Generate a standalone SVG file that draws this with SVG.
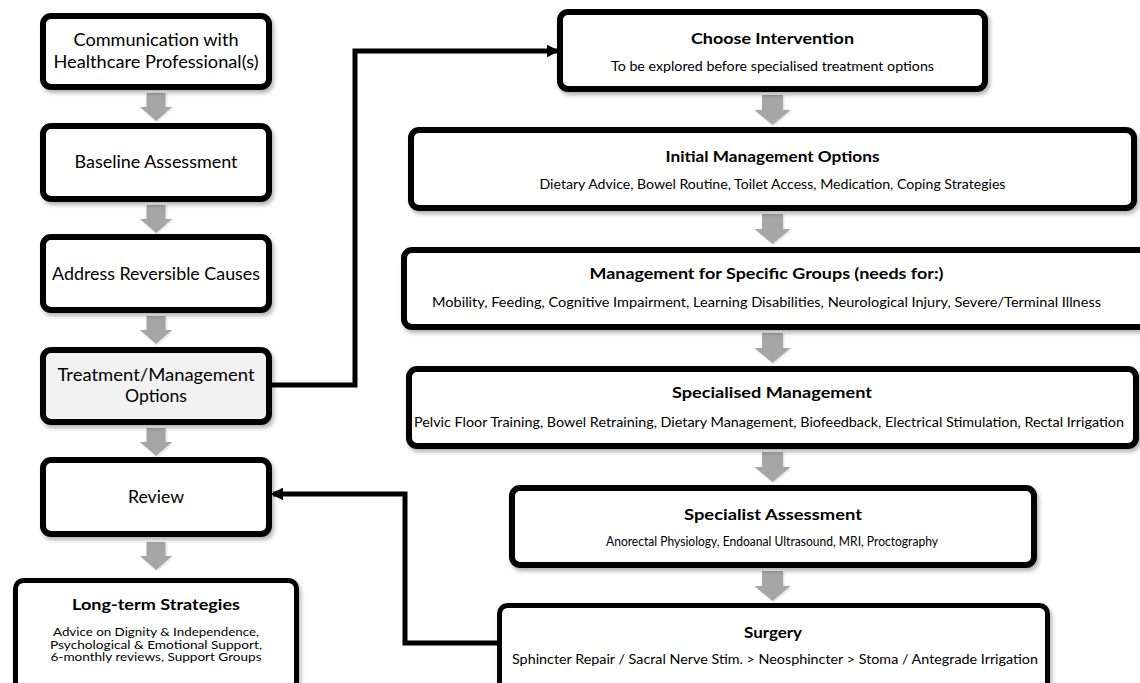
<svg xmlns="http://www.w3.org/2000/svg" width="1140" height="683" viewBox="0 0 1140 683">
<style>
.box{fill:#fff;stroke:#000;stroke-width:6;filter:url(#sh)}
.thin{stroke-width:5}
.grey{fill:#f2f2f2}
.t{font-family:Lato,"Liberation Sans",sans-serif;font-size:17px;fill:#000;text-anchor:middle}
.h{font-weight:bold;font-size:15px}
.lh{font-weight:bold;font-size:16px}
.s{font-size:12.5px}
.ls{font-size:11.5px}
.arr{fill:#a6a6a6;filter:url(#sh2)}
.conn{fill:none;stroke:#000;stroke-width:5;stroke-linejoin:miter}
</style>
<defs>
<filter id="sh" x="-5%" y="-10%" width="115%" height="130%">
<feDropShadow dx="2" dy="3" stdDeviation="2" flood-color="#000" flood-opacity="0.3"/>
</filter>
<filter id="sh2" x="-30%" y="-20%" width="160%" height="150%">
<feDropShadow dx="1" dy="1" stdDeviation="1" flood-color="#000" flood-opacity="0.15"/>
</filter>
<path id="ga" d="M-9.5,0 H9.5 V14 H16 L0,28 L-16,14 H-9.5 Z"/>
<path id="gb" d="M-10.5,0 H10.5 V15 H18 L0,30 L-18,15 H-10.5 Z"/>
<marker id="ah" viewBox="0 0 10 10" refX="8" refY="5" markerUnits="userSpaceOnUse" markerWidth="13" markerHeight="13" orient="auto">
<path d="M0,0 L10,5 L0,10 Z" fill="#000"/>
</marker>
</defs>

<g id="connectors">
<use href="#ga" class="arr" x="156" y="93"/>
<use href="#ga" class="arr" x="156" y="205"/>
<use href="#ga" class="arr" x="156" y="316"/>
<use href="#ga" class="arr" x="156" y="428"/>
<use href="#ga" class="arr" x="156" y="542"/>
<use href="#gb" class="arr" x="772.5" y="95"/>
<use href="#gb" class="arr" x="772.5" y="214"/>
<use href="#gb" class="arr" x="772.5" y="333"/>
<use href="#gb" class="arr" x="772.5" y="452"/>
<use href="#gb" class="arr" x="772.5" y="571"/>
<path class="conn" d="M272,385 H355 V51 H557" marker-end="url(#ah)"/>
<path class="conn" d="M497,643 H405 V494 H273" marker-end="url(#ah)"/>
</g>

<g id="n-communication">
<rect class="box" x="43" y="16" width="226" height="71" rx="8"/>
<text class="t" x="156" y="46" textLength="165" lengthAdjust="spacingAndGlyphs">Communication with</text>
<text class="t" x="156" y="68" textLength="205" lengthAdjust="spacingAndGlyphs">Healthcare Professional(s)</text>
</g>
<g id="n-baseline">
<rect class="box" x="43" y="126" width="226" height="73" rx="8"/>
<text class="t" x="156" y="168" textLength="163" lengthAdjust="spacingAndGlyphs">Baseline Assessment</text>
</g>
<g id="n-address">
<rect class="box" x="43" y="237" width="226" height="73" rx="8"/>
<text class="t" x="156" y="280" textLength="208" lengthAdjust="spacingAndGlyphs">Address Reversible Causes</text>
</g>
<g id="n-treatment">
<rect class="box grey" x="43" y="350" width="226" height="72" rx="8"/>
<text class="t" x="156" y="381" textLength="197" lengthAdjust="spacingAndGlyphs">Treatment/Management</text>
<text class="t" x="156" y="402" textLength="62" lengthAdjust="spacingAndGlyphs">Options</text>
</g>
<g id="n-review">
<rect class="box" x="43" y="460" width="226" height="74" rx="8"/>
<text class="t" x="156" y="503" textLength="56" lengthAdjust="spacingAndGlyphs">Review</text>
</g>
<g id="n-longterm">
<rect class="box thin" x="15.5" y="580.5" width="281" height="110" rx="8"/>
<text class="t lh" x="156" y="610" textLength="168" lengthAdjust="spacingAndGlyphs">Long-term Strategies</text>
<text class="t ls" x="156" y="636" textLength="206" lengthAdjust="spacingAndGlyphs">Advice on Dignity &amp; Independence,</text>
<text class="t ls" x="156" y="648.5" textLength="212" lengthAdjust="spacingAndGlyphs">Psychological &amp; Emotional Support,</text>
<text class="t ls" x="156" y="661" textLength="211" lengthAdjust="spacingAndGlyphs">6-monthly reviews, Support Groups</text>
</g>

<g id="n-choose">
<rect class="box" x="560" y="12" width="425" height="77" rx="8"/>
<text class="t h" x="772.5" y="44" textLength="163" lengthAdjust="spacingAndGlyphs">Choose Intervention</text>
<text class="t s" x="772.5" y="71" textLength="323" lengthAdjust="spacingAndGlyphs">To be explored before specialised treatment options</text>
</g>
<g id="n-initial">
<rect class="box" x="411" y="130" width="723" height="78" rx="8"/>
<text class="t h" x="772.5" y="162" textLength="214" lengthAdjust="spacingAndGlyphs">Initial Management Options</text>
<text class="t s" x="772.5" y="189" textLength="466" lengthAdjust="spacingAndGlyphs">Dietary Advice, Bowel Routine, Toilet Access, Medication, Coping Strategies</text>
</g>
<g id="n-specific">
<rect class="box" x="404" y="250" width="745" height="77" rx="8"/>
<text class="t h" x="766.5" y="279" textLength="354" lengthAdjust="spacingAndGlyphs">Management for Specific Groups (needs for:)</text>
<text class="t s" x="766.5" y="307" textLength="669" lengthAdjust="spacingAndGlyphs">Mobility, Feeding, Cognitive Impairment, Learning Disabilities, Neurological Injury, Severe/Terminal  Illness</text>
</g>
<g id="n-specialised">
<rect class="box" x="409" y="369" width="727" height="77" rx="8"/>
<text class="t h" x="772" y="398" textLength="200" lengthAdjust="spacingAndGlyphs">Specialised Management</text>
<text class="t s" x="769" y="427" textLength="710" lengthAdjust="spacingAndGlyphs">Pelvic Floor Training, Bowel Retraining, Dietary Management, Biofeedback, Electrical Stimulation, Rectal Irrigation</text>
</g>
<g id="n-assessment">
<rect class="box" x="512" y="488" width="522" height="77" rx="8"/>
<text class="t h" x="773" y="520" textLength="178" lengthAdjust="spacingAndGlyphs">Specialist Assessment</text>
<text class="t s" x="772" y="546" textLength="332" lengthAdjust="spacingAndGlyphs">Anorectal Physiology, Endoanal Ultrasound, MRI, Proctography</text>
</g>
<g id="n-surgery">
<rect class="box thin" x="499.5" y="605.5" width="548" height="90" rx="8"/>
<text class="t h" x="773" y="638" textLength="58" lengthAdjust="spacingAndGlyphs">Surgery</text>
<text class="t s" x="775" y="664" textLength="526" lengthAdjust="spacingAndGlyphs">Sphincter Repair / Sacral Nerve Stim. &gt; Neosphincter &gt; Stoma / Antegrade Irrigation</text>
</g>
</svg>
